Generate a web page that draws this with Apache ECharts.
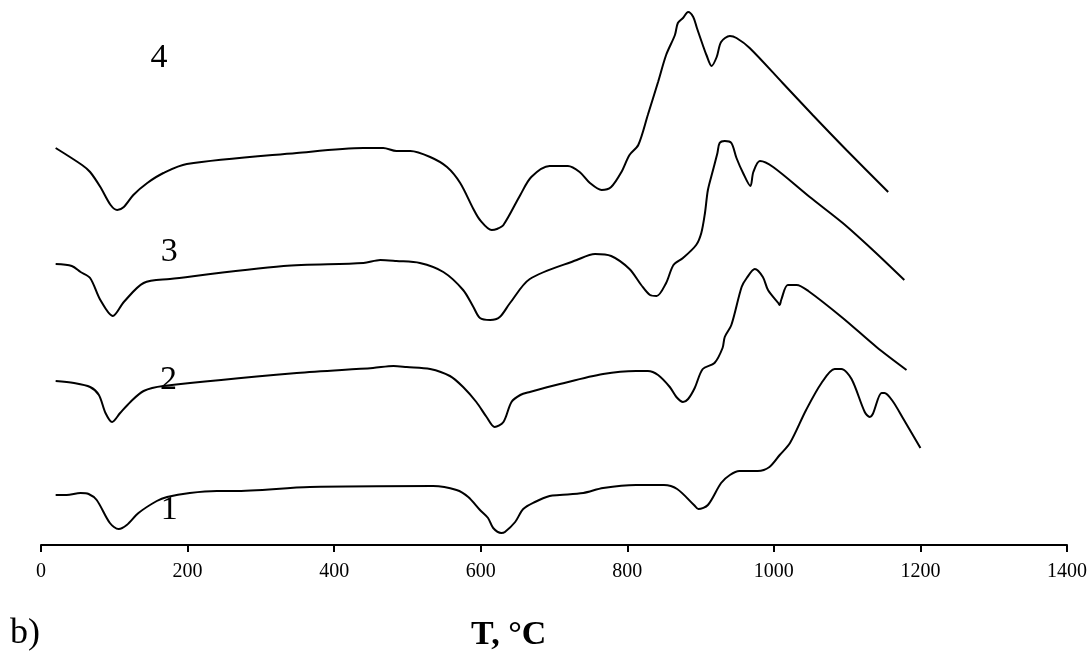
<!DOCTYPE html>
<html>
	<head>
		<meta charset="utf-8">
		<title>DTA curves</title>
		<script src="https://cdn.jsdelivr.net/npm/echarts@6/dist/echarts.min.js"></script>
		<style>
			html, body { margin: 0; padding: 0; background: #fff; }
		</style>
	</head>
	<body>
		<div id="main" style="width: 1092px;height:657px;"></div>
		<script type="text/javascript">
			// temperature ticks, deg C
			var xTicks = [0, 200, 400, 600, 800, 1000, 1200, 1400];

			// DTA signal, arbitrary units (curves are shifted vertically), [T, signal]
			var curve1 = [[20, 50], [35, 50], [54, 52], [65, 51], [76, 45], [94, 22], [106, 16], [117, 20], [133, 32], [158, 44], [172, 48], [203, 52], [240, 54], [263, 54], [367, 58], [535, 59], [567, 55], [583, 48], [599, 35], [610, 27], [617, 17], [628, 12], [633, 13], [647, 23], [658, 36], [674, 43], [694, 49], [708, 50], [740, 52], [767, 57], [812, 60], [850, 60], [868, 56], [891, 40], [897, 36], [910, 40], [928, 62], [940, 70], [953, 74], [978, 74], [994, 78], [1008, 90], [1022, 102], [1044, 135], [1065, 162], [1083, 176], [1092, 176], [1106, 166], [1124, 133], [1131, 128], [1135, 131], [1147, 152], [1151, 152], [1162, 144], [1176, 127], [1200, 97]];

			var curve2 = [[20, 164], [45, 162], [67, 158], [79, 150], [88, 132], [97, 123], [108, 132], [122, 143], [140, 154], [167, 159], [349, 172], [453, 177], [481, 179], [499, 178], [531, 176], [558, 169], [576, 158], [594, 143], [608, 128], [619, 118], [631, 123], [642, 143], [654, 150], [667, 153], [708, 161], [767, 171], [812, 174], [828, 174], [842, 170], [858, 158], [867, 148], [876, 143], [883, 146], [892, 157], [903, 176], [919, 182], [930, 197], [933, 208], [942, 220], [956, 258], [963, 267], [974, 276], [985, 268], [992, 255], [1006, 242], [1008, 240], [1010, 245], [1019, 260], [1031, 260], [1047, 254], [1094, 227], [1140, 198], [1181, 175]];

			var curve3 = [[20, 281], [42, 279], [54, 273], [67, 267], [81, 245], [98, 229], [113, 243], [140, 262], [176, 266], [331, 279], [440, 282], [463, 285], [485, 284], [517, 282], [549, 273], [576, 255], [590, 238], [599, 227], [613, 225], [626, 228], [640, 242], [667, 266], [731, 285], [756, 291], [778, 289], [803, 276], [819, 260], [831, 250], [840, 249], [853, 262], [863, 280], [876, 287], [894, 300], [901, 312], [906, 332], [910, 355], [917, 375], [923, 392], [926, 402], [933, 404], [942, 402], [949, 387], [958, 372], [968, 359], [972, 373], [981, 384], [999, 378], [1049, 348], [1094, 322], [1135, 295], [1178, 265]];

			var curve4 = [[20, 397], [56, 380], [67, 373], [81, 358], [95, 340], [104, 335], [113, 338], [126, 350], [145, 362], [167, 372], [199, 381], [349, 392], [440, 397], [467, 397], [485, 394], [504, 394], [531, 388], [554, 378], [572, 362], [590, 336], [599, 325], [615, 315], [622, 316], [631, 320], [654, 350], [669, 368], [694, 379], [719, 379], [735, 373], [749, 362], [765, 355], [778, 358], [792, 373], [803, 390], [815, 400], [828, 430], [842, 463], [853, 490], [865, 510], [869, 522], [876, 527], [883, 533], [890, 528], [895, 517], [903, 500], [908, 490], [915, 479], [922, 488], [928, 503], [940, 509], [949, 507], [967, 497], [1012, 462], [1053, 430], [1099, 395], [1156, 353]];

			// curve numbers and where they sit, [T, signal]
			var curveNames = ['1', '2', '3', '4'];
			var namePos = [[175, 35], [174, 165], [175, 293], [161, 487]];

			var serifFont = '"Liberation Serif", "Times New Roman", serif';
			var curves = [curve1, curve2, curve3, curve4];

			var myChart = echarts.init(document.getElementById('main'));

			var series = curves.map(function(c, i) {
				return {
					name: curveNames[i],
					type: 'line',
					data: c,
					symbol: 'none',
					smooth: 0.3,
					animation: false,
					lineStyle: {
						color: '#000',
						width: 2
					},
					markPoint: {
						symbol: 'circle',
						symbolSize: 1,
						itemStyle: { color: 'rgba(0,0,0,0)' },
						label: {
							show: true,
							position: 'inside',
							formatter: curveNames[i],
							color: '#000',
							fontFamily: serifFont,
							fontSize: 34
						},
						data: [{ coord: namePos[i] }]
					}
				};
			});

			var option = {
				backgroundColor: '#fff',
				animation: false,
				grid: {
					left: 41,
					right: 25,
					top: 0,
					bottom: 112
				},
				xAxis: {
					type: 'value',
					min: xTicks[0],
					max: xTicks[xTicks.length - 1],
					interval: 200,
					splitLine: { show: false },
					axisLine: {
						onZero: false,
						lineStyle: { color: '#000', width: 2 }
					},
					axisTick: {
						show: true,
						length: 7,
						lineStyle: { color: '#000', width: 2 }
					},
					axisLabel: {
						color: '#000',
						fontFamily: serifFont,
						fontSize: 20,
						margin: 17,
						formatter: function(v) { return String(v); }
					}
				},
				yAxis: {
					type: 'value',
					min: 0,
					max: 545,
					show: false
				},
				graphic: [{
					type: 'text',
					left: 10,
					top: 616,
					style: {
						text: 'b)',
						fill: '#000',
						font: '36px ' + serifFont
					}
				}, {
					type: 'text',
					left: 471,
					top: 618,
					style: {
						text: 'T, °C',
						fill: '#000',
						font: 'bold 34px ' + serifFont
					}
				}],
				series: series
			};

			myChart.setOption(option);
		</script>
	</body>
</html>
